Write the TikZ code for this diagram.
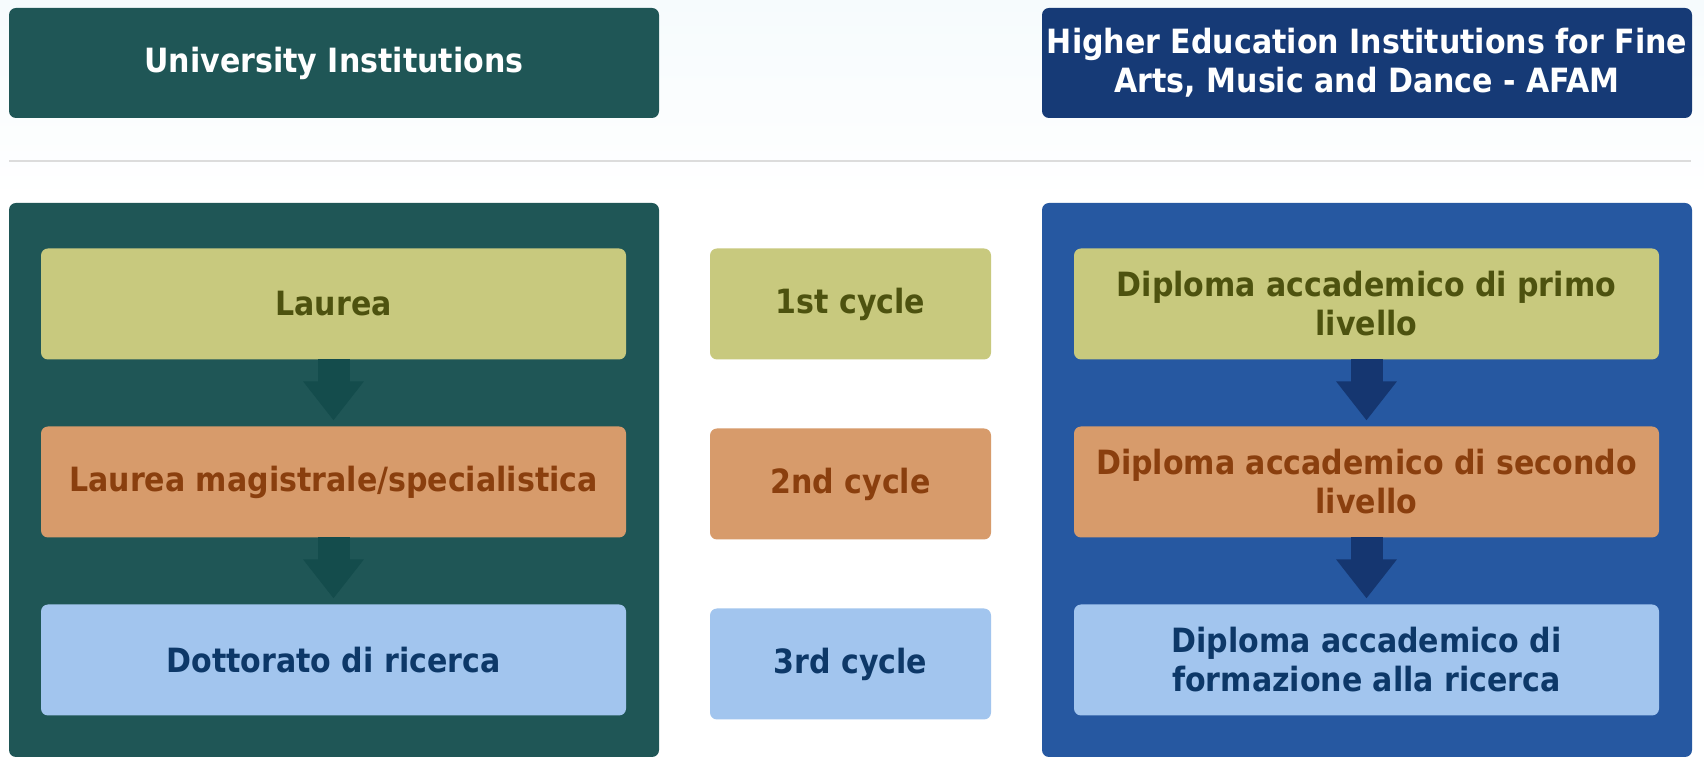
\documentclass[tikz,border=0pt]{standalone}
\usepackage{fontspec}
\setmainfont{DejaVu Sans Condensed}
\usepackage{tikz}
\usetikzlibrary{positioning}
\usetikzlibrary{arrows.meta}
\definecolor{myteal}{RGB}{31,86,86}
\definecolor{mydarkteal}{RGB}{20,76,76}
\definecolor{mynavy}{RGB}{22,58,118}
\definecolor{mydarknavy}{RGB}{21,54,112}
\definecolor{myblue}{RGB}{38,88,161}
\definecolor{mylightolive}{RGB}{200,201,126}
\definecolor{mydarkolive}{RGB}{77,82,15}
\definecolor{mylightorange}{RGB}{215,155,107}
\definecolor{mydarkorange}{RGB}{138,63,14}
\definecolor{mylightblue}{RGB}{162,197,238}
\definecolor{mydarkblue}{RGB}{13,56,104}
\definecolor{mysky}{RGB}{246,251,253}
\definecolor{myrule}{RGB}{220,220,220}
\tikzset{
  framebox/.style={shape=rectangle,rounded corners=3.5pt,fill=#1,minimum width=325pt},
  headbox/.style={framebox=#1,minimum height=55pt,text=white,align=center,font=\boxfont},
  cyclebox/.style args={#1,#2}{shape=rectangle,rounded corners=3.5pt,fill=#1,text=#2,align=center,font=\boxfont,minimum width=292.5pt,minimum height=55.5pt},
  stepline/.style={#1,line width=16pt,shorten >=3pt,-{Triangle[width=29pt,length=19.5pt]}}
}
\newcommand\boxfont{\fontsize{16.7}{19.5}\selectfont\bfseries}

\begin{document}
\begin{tikzpicture}[x=0.5pt, y=-0.5pt, every node/.style={inner sep=0mm, outer sep=0mm}]
\fill[white] (0,0) rectangle (1704,758);
\shade[top color=mysky, bottom color=white] (0,0) rectangle (1704,200);
% headers
\node[headbox=myteal] (unihead) at (334,63) {University Institutions};
\node[headbox=mynavy] (afamhead) at (1367,63) {Higher Education Institutions for Fine\\Arts, Music and Dance - AFAM};
\draw[myrule, line width=1pt] (9,161) -- (1691,161);
% frames
\node[framebox=myteal, minimum height=277pt] (uniframe) at (334,480) {};
\node[framebox=myblue, minimum height=277pt] (afamframe) at (1367,480) {};
% university column
\node[cyclebox={mylightolive,mydarkolive}] (laurea) at (333.5,304) {Laurea};
\node[cyclebox={mylightorange,mydarkorange}, below=33.5pt of laurea] (magistrale) {Laurea magistrale/specialistica};
\node[cyclebox={mylightblue,mydarkblue}, below=33.5pt of magistrale] (dottorato) {Dottorato di ricerca};
% cycles
\node[cyclebox={mylightolive,mydarkolive}, minimum width=140.5pt, right=42pt of laurea] (first) {1st cycle};
\node[cyclebox={mylightorange,mydarkorange}, minimum width=140.5pt, right=42pt of magistrale, yshift=-1pt] (second) {2nd cycle};
\node[cyclebox={mylightblue,mydarkblue}, minimum width=140.5pt, right=42pt of dottorato, yshift=-2pt] (third) {3rd cycle};
% afam column
\node[cyclebox={mylightolive,mydarkolive}, right=41.5pt of first] (primo) {Diploma accademico di primo\\livello};
\node[cyclebox={mylightorange,mydarkorange}, right=83.5pt of magistrale.east, anchor=west, xshift=140.5pt] (secondo) {Diploma accademico di secondo\\livello};
\node[cyclebox={mylightblue,mydarkblue}, right=83.5pt of dottorato.east, anchor=west, xshift=140.5pt] (ricerca) {Diploma accademico di\\formazione alla ricerca};
% arrows
\draw[stepline=mydarkteal] (laurea.south) -- (magistrale.north);
\draw[stepline=mydarkteal] (magistrale.south) -- (dottorato.north);
\draw[stepline=mydarknavy] (primo.south) -- (secondo.north);
\draw[stepline=mydarknavy] (secondo.south) -- (ricerca.north);
\end{tikzpicture}
\end{document}
